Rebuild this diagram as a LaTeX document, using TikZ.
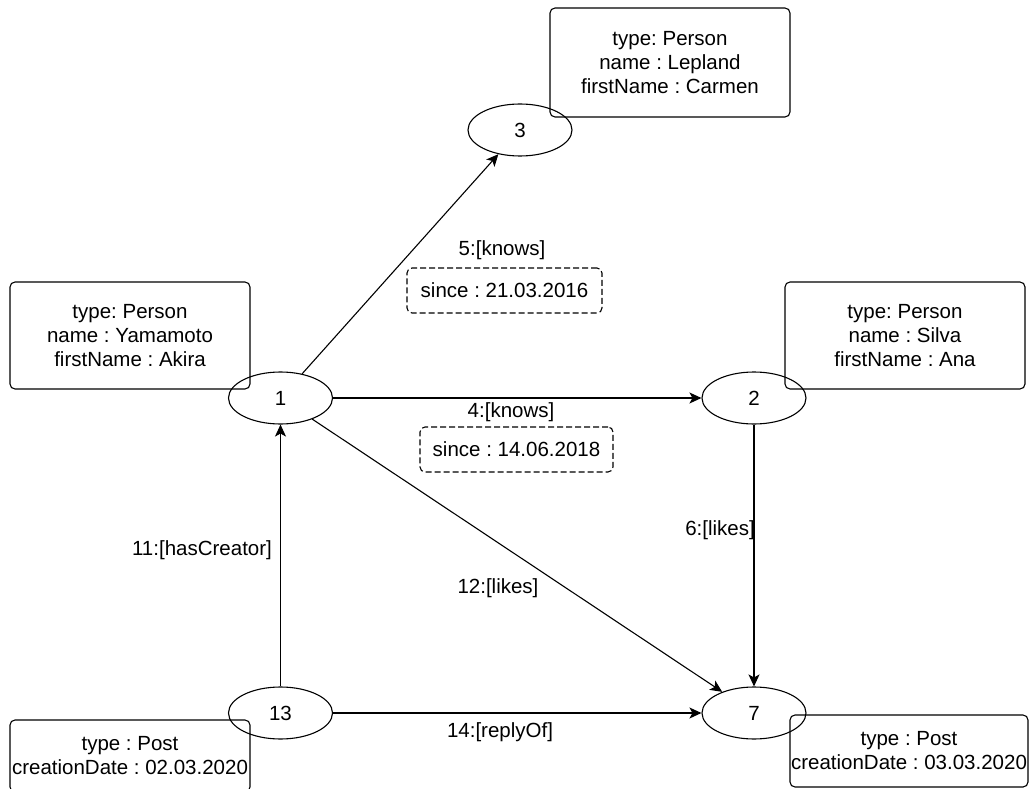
\documentclass[tikz,border=0pt]{standalone}
\usepackage{fontspec}
\setmainfont{Liberation Sans}
\frenchspacing
\usetikzlibrary{shapes.geometric,arrows.meta}
\begin{document}
\begin{tikzpicture}[x=1pt,y=-1pt,
  every node/.style={font=\fontsize{20.5}{24}\selectfont, inner sep=0pt},
  vertex/.style={draw, ellipse, line width=1.1pt, minimum width=104pt, minimum height=52pt},
  propbox/.style={draw, rounded corners=5pt, line width=1.1pt, align=center},
  edgeprop/.style={draw, dashed, dash pattern=on 6pt off 3pt, rounded corners=5pt, line width=1.1pt, align=center,
    minimum width=194pt, minimum height=45pt},
  rel/.style={line width=1.1pt, -{Stealth[length=12pt,width=11pt,inset=3pt]}},
  lbl/.style={align=center}]
\useasboundingbox (0,0) rectangle (1029,789);
\clip (0,0) rectangle (1029,789);

% property boxes of the vertices
\node[propbox, minimum width=240pt, minimum height=109pt] (p3) at (670,62.5)
  {type: Person\\name : Lepland\\firstName : Carmen};
\node[propbox, minimum width=240pt, minimum height=107pt] (p1) at (130,335.5)
  {type: Person\\name : Yamamoto\\firstName : Akira};
\node[propbox, minimum width=240pt, minimum height=107pt] (p2) at (905,335.5)
  {type: Person\\name : Silva\\firstName : Ana};
\node[propbox, minimum width=240pt, minimum height=72pt] (p13) at (130,756)
  {type : Post\\creationDate : 02.03.2020};
\node[propbox, minimum width=238pt, minimum height=72pt] (p7) at (909,751)
  {type : Post\\creationDate : 03.03.2020};

% vertices
\node[vertex] (n3) at (520,130) {3};
\node[vertex] (n1) at (280.5,398) {1};
\node[vertex] (n2) at (754,398) {2};
\node[vertex] (n13) at (280.5,713) {13};
\node[vertex] (n7) at (754,713) {7};

% edges
\draw[rel] (n1) -- (n3);
\draw[rel] (n1) -- (n2);
\draw[rel] (n1) -- (n7);
\draw[rel] (n2) -- (n7);
\draw[rel] (n13) -- (n1);
\draw[rel] (n13) -- (n7);

% edge labels and edge properties
\node[lbl] (l5) at (502,250) {5:[knows]};
\node[edgeprop, minimum width=195pt] (e5) at (504.5,290.5) {since : 21.03.2016};
\node[lbl] (l4) at (511,412) {4:[knows]};
\node[edgeprop, minimum width=193pt] (e4) at (516.5,449.5) {since : 14.06.2018};
\node[lbl] (l6) at (720,530) {6:[likes]};
\node[lbl] (l12) at (498,588) {12:[likes]};
\node[lbl] (l11) at (202,550) {11:[hasCreator]};
\node[lbl] (l14) at (500,732) {14:[replyOf]};
\end{tikzpicture}
\end{document}
